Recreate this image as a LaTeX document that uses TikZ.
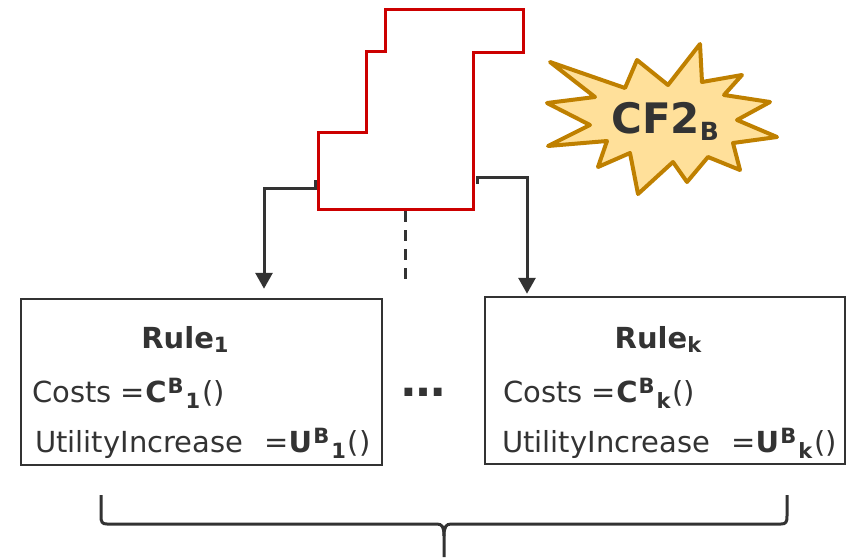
\documentclass[tikz,border=0pt]{standalone}
\usepackage{fontspec}
\setmainfont{DejaVu Sans}
\usetikzlibrary{arrows.meta}

\definecolor{ink}{HTML}{333333}
\definecolor{shapered}{HTML}{CC0000}
\definecolor{burstfill}{HTML}{FFE09A}
\definecolor{burstedge}{HTML}{BF8000}

% bold superscript followed by a bold subscript, as in C^B_1
\newcommand{\supthensub}[2]{%
  \kern1pt\raisebox{9pt}{\fontsize{21}{21}\selectfont\bfseries #1}%
  \kern2pt\raisebox{-6pt}{\fontsize{21}{21}\selectfont\bfseries #2}\kern2pt}
\newcommand{\lowsub}[1]{\raisebox{-4pt}{\fontsize{21}{21}\selectfont\bfseries #1}}

\tikzset{
  rulebox/.style={draw=ink, line width=2.5pt, rectangle, inner sep=0pt},
  textline/.style={text=ink, inner sep=0pt, font=\fontsize{29}{29}\selectfont},
  conn/.style={draw=ink, line width=3pt, line join=miter,
    -{Triangle[length=16pt, width=17pt]}},
  redshape/.style={draw=shapered, line width=3pt, line join=miter},
  burst/.style={draw=burstedge, fill=burstfill, line width=4pt, line join=round},
  bracestyle/.style={draw=ink, line width=3pt},
}

\begin{document}
\begin{tikzpicture}[x=1pt, y=-1pt]
  \useasboundingbox (0,0) rectangle (846,557);

  % stepped outline on top
  \draw[redshape] (385,9) -- (523,9) -- (523,52) -- (473,52) -- (473,209)
    -- (318,209) -- (318,132) -- (366,132) -- (366,51) -- (385,51) -- cycle;

  % attachment points on the outline
  \coordinate (tapL) at (315,180);
  \coordinate (bendL) at (264,188);
  \coordinate (tapR) at (477,184);
  \coordinate (bendR) at (527,177);
  \coordinate (dashtop) at (405,211);
  \coordinate (dashbot) at (405,287);

  % burst label
  \draw[burst] (700,44) -- (702,82) -- (742,75) -- (724,95) -- (770,102)
    -- (737,120) -- (777,137) -- (733,143) -- (740,170) -- (708,157)
    -- (687,182) -- (673,162) -- (638,194) -- (630,153) -- (598,167)
    -- (607,141) -- (548,146) -- (590,125) -- (547,103) -- (595,97)
    -- (550,62) -- (625,88) -- (637,60) -- (668,85) -- cycle;
  \node[text=ink, inner sep=0pt, anchor=base west] (cf) at (611,133)
    {\fontsize{42}{42}\selectfont\bfseries CF2\raisebox{-7pt}{\fontsize{25}{25}\selectfont B}};

  % rule boxes
  \node[rulebox, minimum width=361pt, minimum height=166pt] (r1) at (201.5,382) {};
  \node[rulebox, minimum width=360pt, minimum height=167pt] (rk) at (665,380.5) {};

  \node[textline, anchor=base] (r1title) at (185,348) {\textbf{Rule}\lowsub{1}};
  \node[textline, anchor=base west] (r1cost) at (32,402)
    {Costs =\textbf{C}\supthensub{B}{1}()};
  \node[textline, anchor=base west] (r1util) at (35,452)
    {UtilityIncrease \hspace{12pt}=\textbf{U}\supthensub{B}{1}()};

  \node[textline, anchor=base] (rktitle) at (658,348) {\textbf{Rule}\lowsub{k}};
  \node[textline, anchor=base west] (rkcost) at (503,402)
    {Costs =\textbf{C}\supthensub{B}{k}()};
  \node[textline, anchor=base west] (rkutil) at (502,452)
    {UtilityIncrease \hspace{12pt}=\textbf{U}\supthensub{B}{k}()};

  \node[text=ink, inner sep=0pt, anchor=base] (dots) at (423,396)
    {\fontsize{44}{44}\selectfont\bfseries …};

  % connectors
  \draw[conn, shorten >=9pt] (tapL) -- (tapL |- bendL) -- (bendL) -- (bendL |- r1.north);
  \draw[conn, shorten >=2pt] (tapR) -- (tapR |- bendR) -- (bendR) -- (bendR |- rk.north);
  \draw[draw=ink, line width=3pt, dash pattern=on 11pt off 8pt] (dashtop) -- (dashbot);

  % brace under both boxes
  \draw[bracestyle] (101,495) -- (101,516) .. controls (101,522) and (102,524) .. (107,524)
    -- (437,524) .. controls (442,524) and (444,527) .. (444,536) -- (444,557);
  \draw[bracestyle] (444,536) .. controls (444,527) and (446,524) .. (451,524)
    -- (781,524) .. controls (786,524) and (787,522) .. (787,516) -- (787,495);
\end{tikzpicture}
\end{document}
